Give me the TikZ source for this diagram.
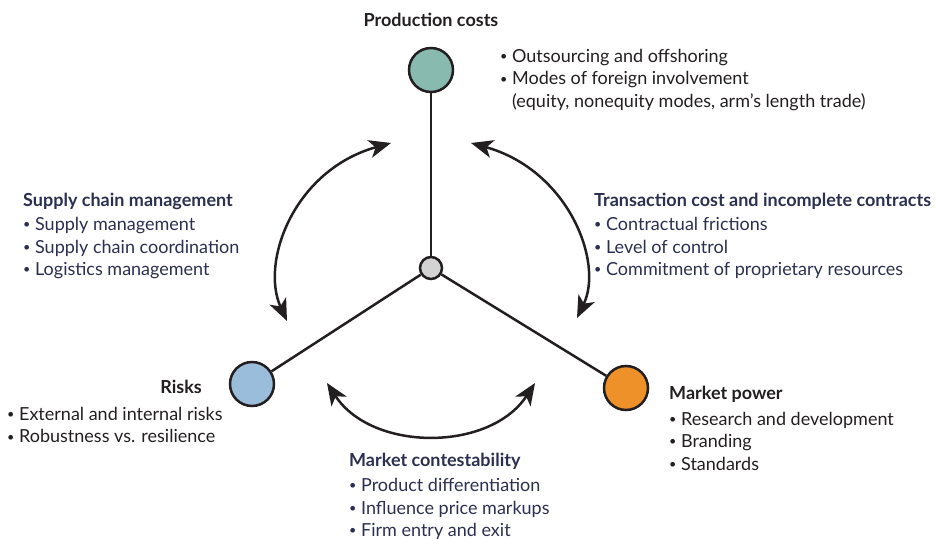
\documentclass[tikz,border=0pt]{standalone}
\usepackage{fontspec}
\setmainfont{Lato}
\usetikzlibrary{arrows.meta}
\definecolor{navy}{HTML}{2B3050}
\definecolor{ink}{HTML}{231F20}
\definecolor{teal}{HTML}{88BAB0}
\definecolor{sky}{HTML}{9ABDDC}
\definecolor{amber}{HTML}{EE9129}
\definecolor{hub}{HTML}{D3D3D3}
\newcommand{\blt}{\raisebox{0.1em}{\scalebox{0.7}{\textbullet}}\ }
\tikzset{
  blk/.style={align=left, inner sep=0pt, anchor=north west, font=\fontsize{18}{22.5}\selectfont},
  hdg/.style={font=\fontsize{18}{22.5}\selectfont\bfseries, text=ink, inner sep=0pt},
  dot/.style={circle, draw=ink, line width=2.5pt, minimum size=44pt, inner sep=0pt},
  swing/.style={ink, line width=2.5pt, {Stealth[length=22pt,width=18pt,inset=6pt]}-{Stealth[length=22pt,width=18pt,inset=6pt]}}
}
\begin{document}
\begin{tikzpicture}[x=1pt, y=-1pt]
  \useasboundingbox (0,0) rectangle (942,538);

  \node[dot, fill=teal] (prod) at (431,70) {};
  \node[dot, fill=sky] (risk) at (252,384) {};
  \node[dot, fill=amber] (power) at (626,388) {};
  \node[dot, fill=hub, minimum size=22pt] (hubc) at (431,268) {};

  \path[draw=ink, line width=2.5pt] (hubc) edge (prod);
  \path[draw=ink, line width=2.5pt] (hubc) edge (risk);
  \path[draw=ink, line width=2.5pt] (hubc) edge (power);

  % curved double arrows
  \coordinate (tl1) at (391,143);
  \coordinate (tl2) at (287,321);
  \coordinate (tr1) at (471,143);
  \coordinate (tr2) at (577,318);
  \coordinate (bt1) at (327,383);
  \coordinate (bt2) at (535,383);
  \draw[swing] (tl1) .. controls (294,170) and (260,262) .. (tl2);
  \draw[swing] (tr1) .. controls (568,170) and (604,262) .. (tr2);
  \draw[swing] (bt1) .. controls (372,452) and (490,452) .. (bt2);

  % labels
  \node[hdg, anchor=base] (prodh) at (431,27) {Production costs};
  \node[blk, text=ink] (prodl) at (500,49) {\blt Outsourcing and offshoring\\
    \blt Modes of foreign involvement\\
    \phantom{\blt}(equity, nonequity modes, arm’s length trade)};
  \node[blk, text=navy] (scm) at (23,193) {\textbf{Supply chain management}\\[1.5pt]
    \blt Supply management\\
    \blt Supply chain coordination\\
    \blt Logistics management};
  \node[blk, text=navy] (tcc) at (594,193) {\textbf{Transaction cost and incomplete contracts}\\[1.5pt]
    \blt Contractual frictions\\
    \blt Level of control\\
    \blt Commitment of proprietary resources};
  \node[hdg, anchor=base east] (riskh) at (202,393) {Risks};
  \node[blk, text=ink] (riskl) at (7,407) {\blt External and internal risks\\
    \blt Robustness vs. resilience};
  \node[blk, text=ink] (mpow) at (669,386) {\textbf{Market power}\\[3pt]
    \blt Research and development\\
    \blt Branding\\
    \blt Standards};
  \node[blk, text=navy] (mcon) at (349,453) {\textbf{Market contestability}\\[2.5pt]
    \blt Product differentiation\\
    \blt Influence price markups\\
    \blt Firm entry and exit};
\end{tikzpicture}
\end{document}
